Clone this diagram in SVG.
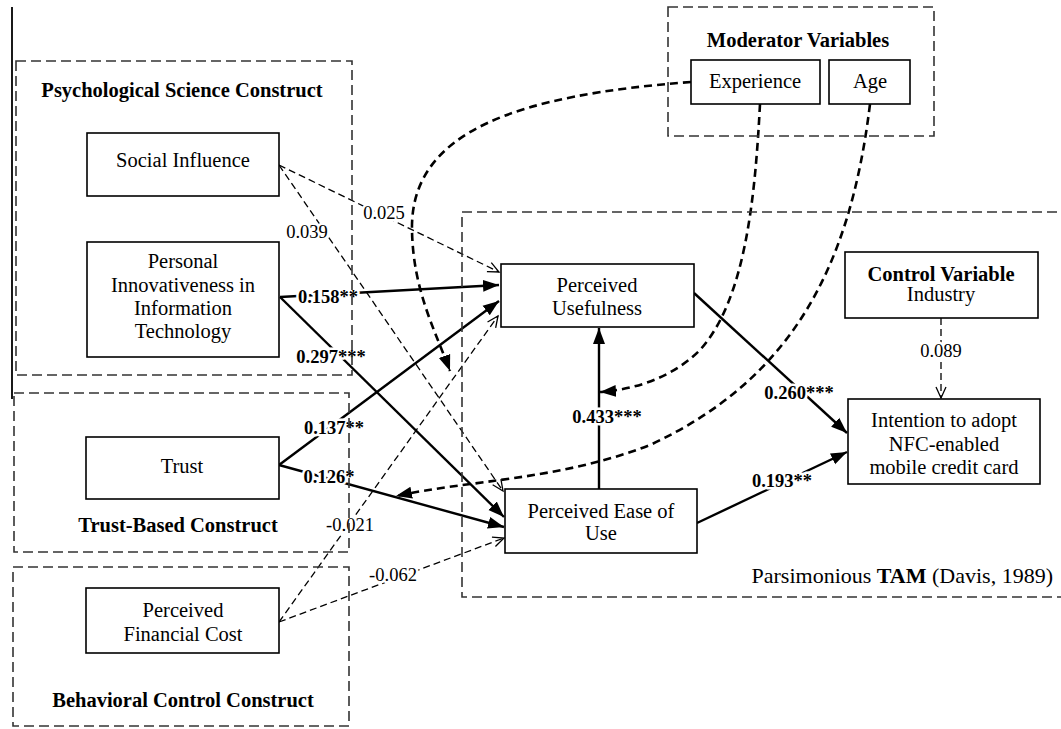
<svg xmlns="http://www.w3.org/2000/svg" width="1061" height="729" viewBox="0 0 1061 729">
<style>
text{font-family:"Times New Roman","Liberation Serif",Tinos,"DejaVu Serif",serif;fill:#000}
.t{font-size:20.5px;text-anchor:middle}
.b{font-weight:bold}
.lbl{font-size:18.5px;text-anchor:middle;paint-order:stroke;stroke:#fff;stroke-width:5px;stroke-linejoin:round}
.node{fill:#fff;stroke:#000;stroke-width:1.6}
.frame{fill:none;stroke:#333;stroke-width:1.6;stroke-dasharray:10 5}
.sol{fill:none;stroke:#000;stroke-width:2.4;marker-end:url(#solid)}
.thin{fill:none;stroke:#000;stroke-width:1.3;stroke-dasharray:7 4;marker-end:url(#open)}
.mod{fill:none;stroke:#000;stroke-width:2.6;stroke-dasharray:8 5;marker-end:url(#modarr)}
</style>
<defs>
<marker id="solid" markerUnits="userSpaceOnUse" markerWidth="18" markerHeight="14" refX="16" refY="7" orient="auto">
<path d="M0,1 L16,7 L0,13 Z" fill="#000"/>
</marker>
<marker id="open" markerUnits="userSpaceOnUse" markerWidth="14" markerHeight="12" refX="12" refY="6" orient="auto">
<path d="M1,1 L12,6 L1,11" fill="none" stroke="#000" stroke-width="1.3"/>
</marker>
<marker id="modarr" markerUnits="userSpaceOnUse" markerWidth="18" markerHeight="14" refX="16" refY="7" orient="auto">
<path d="M0,1 L16,7 L0,13 Z" fill="#000"/>
</marker>
</defs>
<rect width="1061" height="729" fill="#fff"/>
<line x1="12" y1="7" x2="12" y2="399" stroke="#000" stroke-width="1.8"/>

<g id="connectors">
<path class="thin" d="M279,165 L499,272"/>
<path class="thin" d="M279,165 L503,491"/>
<path class="sol" d="M280,297 L499,285"/>
<path class="sol" d="M280,297 L504,517"/>
<path class="sol" d="M279,465 L499,301"/>
<path class="sol" d="M279,465 L504,527"/>
<path class="thin" d="M279,622 L498,316"/>
<path class="thin" d="M279,622 L504,538"/>
<path class="sol" d="M599,489 L599,328"/>
<path class="sol" d="M694,293 L847,433"/>
<path class="sol" d="M697,523 L847,452"/>
<path class="thin" d="M941,318 L941,398"/>
<path class="mod" d="M691,82 C520,95 410,130 412,230 C413,290 435,330 450,371"/>
<path class="mod" d="M760,104 C755,200 745,300 700,350 C670,380 630,390 600,392"/>
<path class="mod" d="M870,104 C850,270 790,380 650,445 C560,480 470,480 396,496"/>
<text class="lbl" x="384" y="219">0.025</text>
<text class="lbl" x="307" y="238">0.039</text>
<text class="lbl b" x="328" y="303">0.158**</text>
<text class="lbl b" x="331" y="363">0.297***</text>
<text class="lbl b" x="334" y="434">0.137**</text>
<text class="lbl b" x="329" y="483">0.126*</text>
<text class="lbl" x="350" y="531">-0.021</text>
<text class="lbl" x="393" y="581">-0.062</text>
<text class="lbl b" x="607" y="423">0.433***</text>
<text class="lbl b" x="799" y="399">0.260***</text>
<text class="lbl b" x="782" y="487">0.193**</text>
<text class="lbl" x="941" y="357">0.089</text>
</g>

<g id="social-influence">
<rect class="node" x="87" y="133" width="192" height="63"/>
<text class="t" x="183" y="167">Social Influence</text>
</g>
<g id="piit">
<rect class="node" x="87" y="242" width="192" height="115"/>
<text class="t" x="183" y="268">Personal</text>
<text class="t" x="183" y="292">Innovativeness in</text>
<text class="t" x="183" y="315">Information</text>
<text class="t" x="183" y="338">Technology</text>
</g>
<g id="trust">
<rect class="node" x="86" y="437" width="193" height="62"/>
<text class="t" x="182" y="473">Trust</text>
</g>
<g id="pfc">
<rect class="node" x="86" y="588" width="193" height="65"/>
<text class="t" x="183" y="617">Perceived</text>
<text class="t" x="183" y="641">Financial Cost</text>
</g>
<g id="experience">
<rect class="node" x="691" y="60" width="129" height="44"/>
<text class="t" x="755" y="88">Experience</text>
</g>
<g id="age">
<rect class="node" x="829" y="60" width="81" height="44"/>
<text class="t" x="870" y="88">Age</text>
</g>
<g id="pu">
<rect class="node" x="501" y="264" width="193" height="63"/>
<text class="t" x="597" y="292">Perceived</text>
<text class="t" x="597" y="315">Usefulness</text>
</g>
<g id="peou">
<rect class="node" x="505" y="489" width="192" height="64"/>
<text class="t" x="601" y="518">Perceived Ease of</text>
<text class="t" x="601" y="540">Use</text>
</g>
<g id="control-variable">
<rect class="node" x="845" y="252" width="193" height="66"/>
<text class="t b" x="941" y="281">Control Variable</text>
<text class="t" x="941" y="301">Industry</text>
</g>
<g id="intention">
<rect class="node" x="848" y="399" width="192" height="85"/>
<text class="t" x="944" y="427">Intention to adopt</text>
<text class="t" x="944" y="451">NFC-enabled</text>
<text class="t" x="944" y="474">mobile credit card</text>
</g>

<g id="psych-construct">
<rect class="frame" x="16" y="61" width="336" height="314"/>
<text class="t b" x="182" y="97">Psychological Science Construct</text>
</g>
<g id="trust-construct">
<rect class="frame" x="14" y="393" width="335" height="159"/>
<text class="t b" x="178" y="532">Trust-Based Construct</text>
</g>
<g id="behavioral-construct">
<rect class="frame" x="13" y="567" width="336" height="159"/>
<text class="t b" x="183" y="707">Behavioral Control Construct</text>
</g>
<g id="moderators">
<rect class="frame" x="668" y="7" width="266" height="129"/>
<text class="t b" x="798" y="47">Moderator Variables</text>
</g>
<g id="tam">
<rect class="frame" x="462" y="212" width="620" height="385"/>
<text x="1053" y="583" style="font-size:22px;text-anchor:end">Parsimonious <tspan font-weight="bold">TAM</tspan> (Davis, 1989)</text>
</g>
</svg>
